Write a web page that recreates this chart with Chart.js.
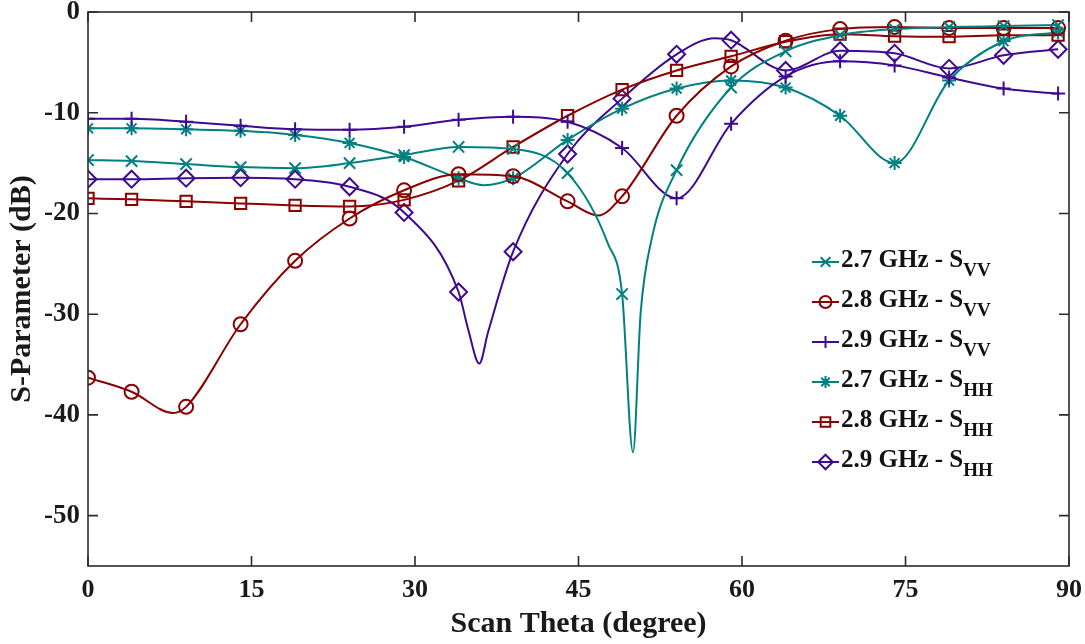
<!DOCTYPE html>
<html>
<head>
<meta charset="utf-8">
<script src="https://cdn.jsdelivr.net/npm/chart.js@4/dist/chart.umd.min.js"></script>
<style>
  html, body { margin: 0; padding: 0; background: #fff; }
  #wrap { width: 1085px; height: 644px; }
</style>
</head>
<body>
<div id="wrap"><canvas id="sparamChart" width="1085" height="644"></canvas></div>
<script>
// scan angles where markers sit
const theta = [0, 4, 9, 14, 19, 24, 29, 34, 39, 44, 49, 54, 59, 64, 69, 74, 79, 84, 89];

// S-parameter values (dB) at the marker angles
const vv27 = [-14.7, -14.8, -15.1, -15.4, -15.5, -15.0, -14.2, -13.4, -13.6, -16.0, -28.0, -15.7, -7.5, -3.9, -2.3, -1.7, -1.5, -1.4, -1.3];
const vv28 = [-36.3, -37.7, -39.2, -31.0, -24.7, -20.5, -17.7, -16.1, -16.3, -18.8, -18.3, -10.3, -5.4, -2.85, -1.7, -1.5, -1.6, -1.6, -1.6];
const vv29 = [-10.6, -10.6, -10.9, -11.3, -11.65, -11.7, -11.4, -10.7, -10.4, -10.9, -13.5, -18.5, -11.1, -6.4, -4.9, -5.3, -6.5, -7.6, -8.1];
const hh27 = [-11.55, -11.55, -11.65, -11.8, -12.2, -13.0, -14.4, -16.5, -16.5, -12.7, -9.6, -7.6, -6.8, -7.5, -10.3, -15.0, -6.8, -2.9, -2.0];
const hh28 = [-18.5, -18.6, -18.8, -19.0, -19.2, -19.3, -18.65, -16.75, -13.4, -10.3, -7.7, -5.8, -4.4, -2.95, -2.2, -2.4, -2.45, -2.3, -2.3];
const hh29 = [-16.6, -16.6, -16.5, -16.45, -16.6, -17.35, -19.9, -27.8, -23.8, -14.1, -8.6, -4.2, -2.8, -5.8, -3.85, -4.1, -5.6, -4.3, -3.7];

// extra points (dips / humps)
const vv27CurveX = [47.7, 50.0, 50.7, 51.7];
const vv27CurveY = [-23.0, -43.7, -29.9, -22.6];
const vv28CurveX = [7.8, 46.8];
const vv28CurveY = [-39.8, -20.2];
const hh27CurveX = [36.3];
const hh27CurveY = [-17.2];
const hh29CurveX = [34.9, 35.9, 36.7, 57.5];
const hh29CurveY = [-31.6, -34.9, -31.8, -2.6];

const xTicks = [0, 15, 30, 45, 60, 75, 90];
const yTicks = [-50, -40, -30, -20, -10, 0];

const teal = '#008080';
const darkRed = '#8b0000';
const purple = '#3f0a8f';
const FONT = '"Liberation Serif", "Times New Roman", serif';

function buildPoints(ys, cx, cy) {
    const pts = theta.map((t, i) => ({ x: t, y: ys[i], m: true }));
    (cx || []).forEach((t, i) => pts.push({ x: t, y: cy[i], m: false }));
    return pts.sort((a, b) => a.x - b.x);
}

const series = [
    { label: '2.7 GHz - S', sub: 'VV', color: teal, style: 'crossRot', r: 8, data: buildPoints(vv27, vv27CurveX, vv27CurveY) },
    { label: '2.8 GHz - S', sub: 'VV', color: darkRed, style: 'circle', r: 7, data: buildPoints(vv28, vv28CurveX, vv28CurveY) },
    { label: '2.9 GHz - S', sub: 'VV', color: purple, style: 'cross', r: 7, data: buildPoints(vv29) },
    { label: '2.7 GHz - S', sub: 'HH', color: teal, style: 'star', r: 7, data: buildPoints(hh27, hh27CurveX, hh27CurveY) },
    { label: '2.8 GHz - S', sub: 'HH', color: darkRed, style: 'rect', r: 8, data: buildPoints(hh28) },
    { label: '2.9 GHz - S', sub: 'HH', color: purple, style: 'rectRot', r: 8.5, data: buildPoints(hh29, hh29CurveX, hh29CurveY) }
];

// box with inward ticks on all four sides
const framePlugin = {
    id: 'frame',
    afterDatasetsDraw(chart) {
        const { ctx, chartArea: a, scales } = chart;
        ctx.save();
        ctx.strokeStyle = '#2b2b2b';
        ctx.lineWidth = 1.6;
        ctx.strokeRect(a.left, a.top, a.right - a.left, a.bottom - a.top);
        ctx.beginPath();
        xTicks.forEach(v => {
            const px = scales.x.getPixelForValue(v);
            ctx.moveTo(px, a.bottom); ctx.lineTo(px, a.bottom - 10);
            ctx.moveTo(px, a.top); ctx.lineTo(px, a.top + 10);
        });
        yTicks.forEach(v => {
            const py = scales.y.getPixelForValue(v);
            ctx.moveTo(a.left, py); ctx.lineTo(a.left + 10, py);
            ctx.moveTo(a.right, py); ctx.lineTo(a.right - 10, py);
        });
        ctx.stroke();
        ctx.restore();
    }
};

// legend with subscripts
const legendPlugin = {
    id: 'subLegend',
    afterDraw(chart) {
        const ctx = chart.ctx;
        ctx.save();
        series.forEach((s, i) => {
            const y = 262 + i * 40;
            ctx.strokeStyle = s.color;
            ctx.lineWidth = 2;
            ctx.beginPath();
            ctx.moveTo(812, y); ctx.lineTo(839, y);
            ctx.stroke();
            ctx.fillStyle = 'rgba(255,255,255,0)';
            Chart.helpers.drawPoint(ctx, { pointStyle: s.style, radius: s.r * 0.85, borderWidth: 2 }, 825.5, y);
            ctx.fillStyle = '#111';
            ctx.textBaseline = 'middle';
            ctx.font = 'bold 25px ' + FONT;
            ctx.fillText(s.label, 841, y - 1);
            const w = ctx.measureText(s.label).width;
            ctx.font = 'bold 19px ' + FONT;
            ctx.fillText(s.sub, 841 + w, y + 9);
        });
        ctx.restore();
    }
};

const ctx = document.getElementById('sparamChart').getContext('2d');

const sparamChart = new Chart(ctx, {
    type: 'line',
    data: {
        datasets: series.map(s => ({
            label: s.label + s.sub,
            data: s.data,
            borderColor: s.color,
            backgroundColor: s.color,
            borderWidth: 2,
            pointStyle: s.style,
            pointRadius: c => (c.raw && c.raw.m ? s.r : 0),
            pointBorderWidth: 2,
            pointBorderColor: s.color,
            pointBackgroundColor: 'rgba(0,0,0,0)',
            cubicInterpolationMode: 'monotone',
            fill: false
        }))
    },
    options: {
        responsive: false,
        animation: false,
        layout: { padding: { top: 12, right: 16, bottom: 0, left: 0 } },
        plugins: {
            legend: { display: false },
            tooltip: { enabled: false }
        },
        scales: {
            x: {
                type: 'linear',
                min: 0,
                max: 90,
                afterBuildTicks: s => { s.ticks = xTicks.map(v => ({ value: v })); },
                afterFit: s => { s.height = 78; s.paddingLeft = 0; s.paddingRight = 0; },
                grid: { display: false, drawTicks: false },
                border: { display: false },
                ticks: {
                    color: '#1a1a1a',
                    padding: 9,
                    maxRotation: 0,
                    font: { family: FONT, size: 26, weight: 'bold' }
                },
                title: {
                    display: true,
                    text: 'Scan Theta (degree)',
                    color: '#1a1a1a',
                    padding: { top: 0, bottom: 2 },
                    font: { family: FONT, size: 30, weight: 'bold' }
                }
            },
            y: {
                type: 'linear',
                min: -55,
                max: 0,
                afterBuildTicks: s => { s.ticks = yTicks.map(v => ({ value: v })); },
                afterFit: s => { s.width = 88; s.paddingTop = 0; s.paddingBottom = 0; },
                grid: { display: false, drawTicks: false },
                border: { display: false },
                ticks: {
                    color: '#1a1a1a',
                    padding: 8,
                    font: { family: FONT, size: 27, weight: 'bold' }
                },
                title: {
                    display: true,
                    text: 'S-Parameter (dB)',
                    color: '#1a1a1a',
                    padding: { top: 4, bottom: 0 },
                    font: { family: FONT, size: 30, weight: 'bold' }
                }
            }
        }
    },
    plugins: [framePlugin, legendPlugin]
});
</script>
</body>
</html>
